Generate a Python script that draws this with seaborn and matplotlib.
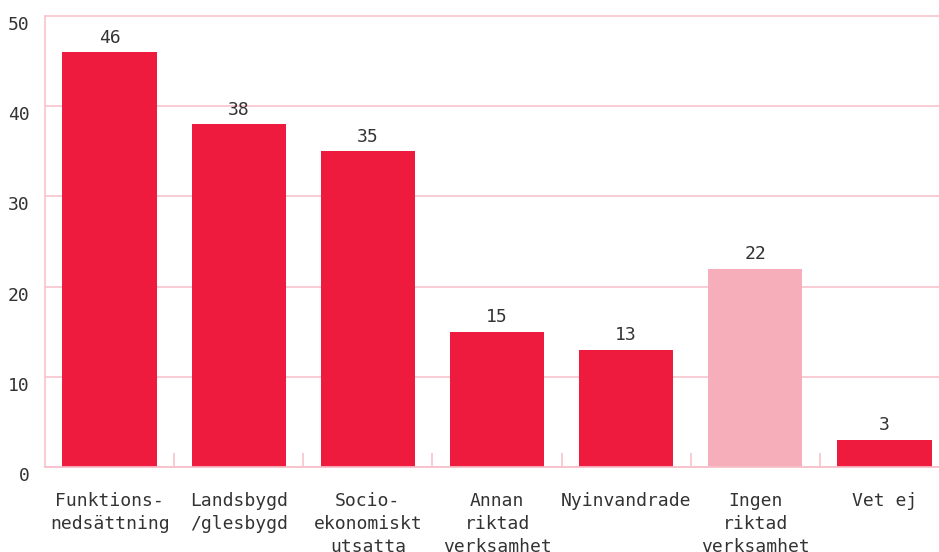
import matplotlib
matplotlib.use("Agg")
import matplotlib.pyplot as plt
import seaborn as sns
import pandas as pd
from matplotlib.ticker import FixedLocator

categories = ["Funktions-\nnedsättning", "Landsbygd\n/glesbygd", "Socio-\nekonomiskt\nutsatta",
              "Annan\nriktad\nverksamhet", "Nyinvandrade", "Ingen\nriktad\nverksamhet", "Vet ej"]
values = [46, 38, 35, 15, 13, 22, 3]
bar_colors = ["#ee1b3e", "#ee1b3e", "#ee1b3e", "#ee1b3e", "#ee1b3e", "#f5aeba", "#ee1b3e"]
y_ticks = [0, 10, 20, 30, 40, 50]

sns.set_theme(style="white")
plt.rcParams['font.family'] = ['DejaVu Sans Mono', 'DejaVu Sans']

df = pd.DataFrame({"cat": categories, "val": values})
fig = plt.figure(figsize=(9.39, 5.52), dpi=100)
ax = fig.add_axes([45/939, 85/552, 904/939, 451/552])

sns.barplot(data=df, x="cat", y="val", hue="cat", palette=bar_colors, legend=False,
            width=0.73, saturation=1, linewidth=0, ax=ax)

grid_c = "#f7c3cc"
ax.set_ylim(0, 50)
ax.set_xlim(-0.5, 6.5)
ax.set_yticks(y_ticks)
ax.set_yticklabels([str(t) for t in y_ticks], fontsize=13, color="#333333")
for lab in ax.get_yticklabels():
    lab.set_verticalalignment("top")
ax.yaxis.grid(True, color=grid_c, linewidth=1.2, clip_on=False)
ax.set_axisbelow(True)
ax.tick_params(axis="y", length=0, pad=11)
ax.tick_params(axis="x", which="major", length=0, pad=18, labelsize=13, labelcolor="#333333")
for lab in ax.get_xticklabels():
    lab.set_linespacing(1.35)
ax.xaxis.set_minor_locator(FixedLocator([0.5, 1.5, 2.5, 3.5, 4.5, 5.5]))
ax.tick_params(axis="x", which="minor", direction="in", length=10, color=grid_c, width=1.2,
               bottom=True, top=False)
ax.set_xlabel("")
ax.set_ylabel("")
for s in ["top", "right"]:
    ax.spines[s].set_visible(False)
for s in ["left", "bottom"]:
    ax.spines[s].set_color(grid_c)
    ax.spines[s].set_linewidth(1.2)

for c in ax.containers:
    ax.bar_label(c, padding=4, fontsize=13, color="#333333")

fig.savefig("out.png", dpi=100)
